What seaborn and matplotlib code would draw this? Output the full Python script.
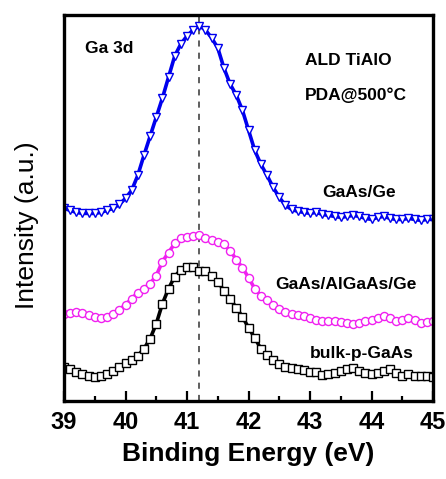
import numpy as np
import pandas as pd
import matplotlib
matplotlib.use("Agg")
import matplotlib.pyplot as plt
import seaborn as sns
from matplotlib.ticker import MultipleLocator

sns.set_theme(style="white")
plt.rcParams['font.family'] = ['Liberation Sans', 'DejaVu Sans']
plt.rcParams['text.color'] = 'black'
plt.rcParams['axes.labelcolor'] = 'black'
plt.rcParams['xtick.color'] = 'black'

# binding energy grid (eV), one point per 0.1 eV
energia = [round(39.0 + 0.1 * i, 1) for i in range(61)]

# intensidades (u.a.)
gaas_ge = [192, 190, 188, 187, 187, 187, 188, 190, 192, 196,
           202, 210, 225, 245, 264, 283, 302, 323, 344, 356,
           364, 370, 374, 370, 362, 352, 332, 316, 305, 290,
           270, 250, 236, 225, 213, 203, 195, 191, 189, 188,
           187, 188, 186, 185, 184, 183, 184, 185, 184, 182,
           181, 183, 184, 182, 181, 181, 182, 181, 180, 181, 181]

gaas_algaas_ge = [87, 88, 89, 88, 86, 84, 83, 84, 87, 91,
                  96, 102, 108, 112, 117, 125, 139, 148, 157, 162,
                  163, 164, 165, 162, 160, 158, 156, 150, 141, 133,
                  123, 112, 105, 101, 96, 92, 89, 87, 86, 85,
                  83, 81, 80, 80, 80, 79, 78, 77, 78, 80,
                  81, 83, 85, 83, 80, 81, 83, 81, 78, 79, 80]

bulk_gaas = [34, 32, 29, 27, 25, 24, 25, 27, 30, 34,
             38, 41, 45, 52, 62, 77, 97, 112, 124, 131,
             134, 134, 130, 130, 125, 119, 110, 102, 93, 84,
             73, 63, 52, 46, 41, 37, 34, 33, 32, 31,
             29, 29, 26, 27, 28, 30, 32, 33, 30, 28,
             27, 28, 30, 32, 28, 25, 27, 25, 25, 25, 24]

pico = 41.2

series = [
    ('GaAs/Ge', gaas_ge, '#0000ee', 'v', 6.3),
    ('GaAs/AlGaAs/Ge', gaas_algaas_ge, '#f020f0', 'o', 5.8),
    ('bulk-p-GaAs', bulk_gaas, 'black', 's', 5.8),
]

fig = plt.figure(figsize=(4.46, 4.79), dpi=100)
ax = fig.add_axes([0.1435, 0.163, 0.8275, 0.806])

for nome, valores, cor, marcador, tam in series:
    df = pd.DataFrame({'E': energia, 'I': valores})
    sns.lineplot(data=df, x='E', y='I', ax=ax, color=cor, linewidth=2.6,
                 marker=marcador, markersize=tam, markerfacecolor='white',
                 markeredgecolor=cor, markeredgewidth=1.0, legend=False)

ax.axvline(pico, color='#333333', linestyle=(0, (4, 4)), linewidth=1.1, zorder=0)

ax.set_xlim(39, 45)
ax.set_ylim(0, 385)
ax.xaxis.set_major_locator(MultipleLocator(1))
ax.xaxis.set_minor_locator(MultipleLocator(0.5))
ax.set_yticks([])
ax.tick_params(axis='x', which='major', direction='in', length=7, width=1.6,
               bottom=True, top=False, labelsize=17, pad=7, colors='black')
ax.tick_params(axis='x', which='minor', direction='in', length=3.5, width=1.6,
               bottom=True, top=False, colors='black')
for lab in ax.get_xticklabels():
    lab.set_fontweight('bold')

for sp in ax.spines.values():
    sp.set_color('black')
    sp.set_linewidth(2.4)

ax.set_xlabel('Binding Energy (eV)', fontsize=19, fontweight='bold', labelpad=6)
ax.set_ylabel('Intensity (a.u.)', fontsize=19)
ax.yaxis.set_label_coords(-0.068, 0.455)

rotulos = [
    (39.34, 351, 'Ga 3d'),
    (42.92, 339, 'ALD TiAlO'),
    (42.92, 305, 'PDA@500°C'),
    (43.2, 208, 'GaAs/Ge'),
    (42.43, 116, 'GaAs/AlGaAs/Ge'),
    (43.0, 47, 'bulk-p-GaAs'),
]
for x, y, txt in rotulos:
    ax.text(x, y, txt, fontsize=12.5, fontweight='bold', ha='left', va='center',
            color='black')

fig.savefig('out.png', dpi=100)
